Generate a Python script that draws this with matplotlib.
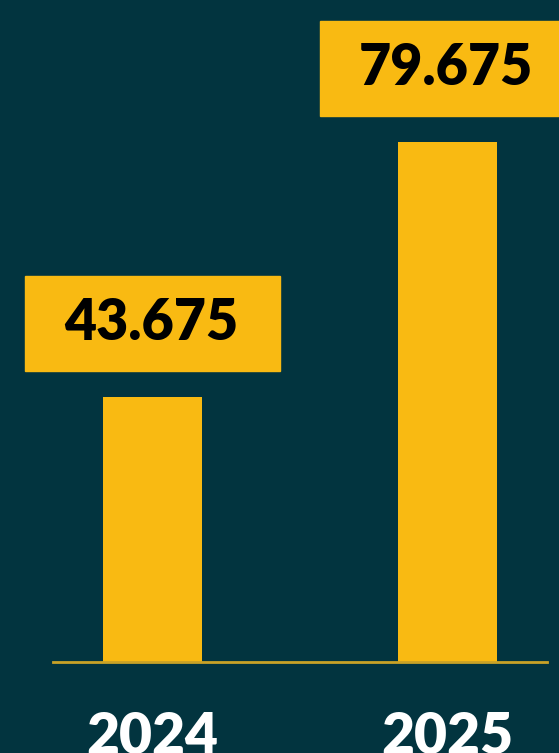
import matplotlib
matplotlib.use("Agg")
import matplotlib.pyplot as plt
from matplotlib.patches import Rectangle

years = ["2024", "2025"]
values = [43.675, 79.675]
labels = ["43.675", "79.675"]

bg = "#02343F"
yellow = "#F9BA12"

fig = plt.figure(figsize=(5.59, 7.53), dpi=100)
fig.patch.set_facecolor(bg)
ax = fig.add_axes([0, 0, 1, 1])
ax.set_facecolor(bg)

base = 6.26
x = list(range(len(years)))
ax.bar(x, [v - base for v in values], bottom=base, width=0.336, color=yellow)
ax.axhline(base, xmin=0.095, xmax=0.979, color="#C9A227", lw=2)

bw, bh, gap = 0.864, 13.3, 3.8
for xi, v, lab in zip(x, values, labels):
    ax.add_patch(Rectangle((xi - bw / 2, v + gap), bw, bh, color=yellow, clip_on=False))
    ax.text(xi - 0.005, v + gap + bh / 2, lab, ha="center", va="center",
            fontsize=40, fontweight="heavy", family=["Lato", "DejaVu Sans"], color="black")

for xi, yr in zip(x, years):
    ax.text(xi, -6.6, yr, ha="center", va="baseline", fontsize=41,
            fontweight="heavy", family=["Lato", "DejaVu Sans"], color="white")

ax.set_xlim(-0.517, 1.378)
ax.set_ylim(-6.52, 99.79)
ax.axis("off")

fig.savefig("out.png", dpi=100, facecolor=bg)
